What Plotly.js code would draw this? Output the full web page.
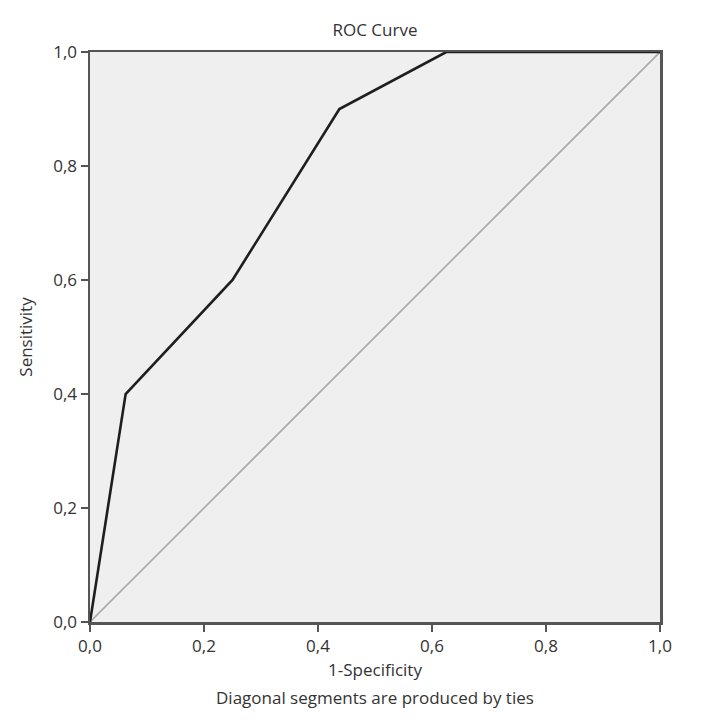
<!DOCTYPE html>
<html>
<head>
<meta charset="utf-8">
<script src="https://cdn.plot.ly/plotly-3.0.1.min.js"></script>
<style>body{margin:0;background:#fff}</style>
</head>
<body>
<div id="chart" style="width:708px;height:720px"></div>
<script>
// ROC curve points (1-specificity vs sensitivity)
const fpr = [0, 0.0625, 0.25, 0.4375, 0.625, 1.0];
const tpr = [0, 0.4, 0.6, 0.9, 1.0, 1.0];
const refLine = [0, 1];
const tickVals = [0, 0.2, 0.4, 0.6, 0.8, 1.0];

const diag = {
  x: refLine, y: refLine,
  mode: "lines", type: "scatter",
  line: { color: "#a9a9a9", width: 1.6 },
  hoverinfo: "skip",
};

const roc = {
  x: fpr, y: tpr,
  mode: "lines", type: "scatter",
  line: { color: "#1e1e1e", width: 2.6 },
};

const axisBase = {
  range: [0, 1],
  tickvals: tickVals,
  tickformat: ".1f",
  ticks: "outside",
  ticklen: 7,
  tickwidth: 2,
  tickcolor: "#555",
  showline: true,
  linecolor: "#555",
  linewidth: 2.5,
  mirror: true,
  showgrid: false,
  zeroline: false,
  fixedrange: true,
  tickfont: { size: 17, color: "#333" },
};

const layout = {
  width: 708, height: 720,
  margin: { l: 90, r: 48, t: 52, b: 98 },
  separators: ",.",
  paper_bgcolor: "#fff",
  plot_bgcolor: "#efefef",
  font: { family: "Open Sans, Noto Sans, sans-serif", color: "#333", size: 17 },
  showlegend: false,
  title: { text: "ROC Curve", x: 0.5, xref: "paper", y: 0.958, yref: "container", yanchor: "middle", font: { size: 17, color: "#333" } },
  xaxis: Object.assign({}, axisBase, {
    title: { text: "1-Specificity", standoff: 8, font: { size: 17, color: "#333" } },
  }),
  yaxis: Object.assign({}, axisBase, {
    title: { text: "Sensitivity", standoff: 17, font: { size: 17, color: "#333" } },
  }),
  annotations: [{
    text: "Diagonal segments are produced by ties",
    xref: "paper", yref: "paper", x: 0.5, y: -0.1333,
    xanchor: "center", yanchor: "middle", showarrow: false,
    font: { size: 17, color: "#333" },
  }],
};

Plotly.newPlot("chart", [diag, roc], layout, { displayModeBar: false, staticPlot: true });
</script>
</body>
</html>
